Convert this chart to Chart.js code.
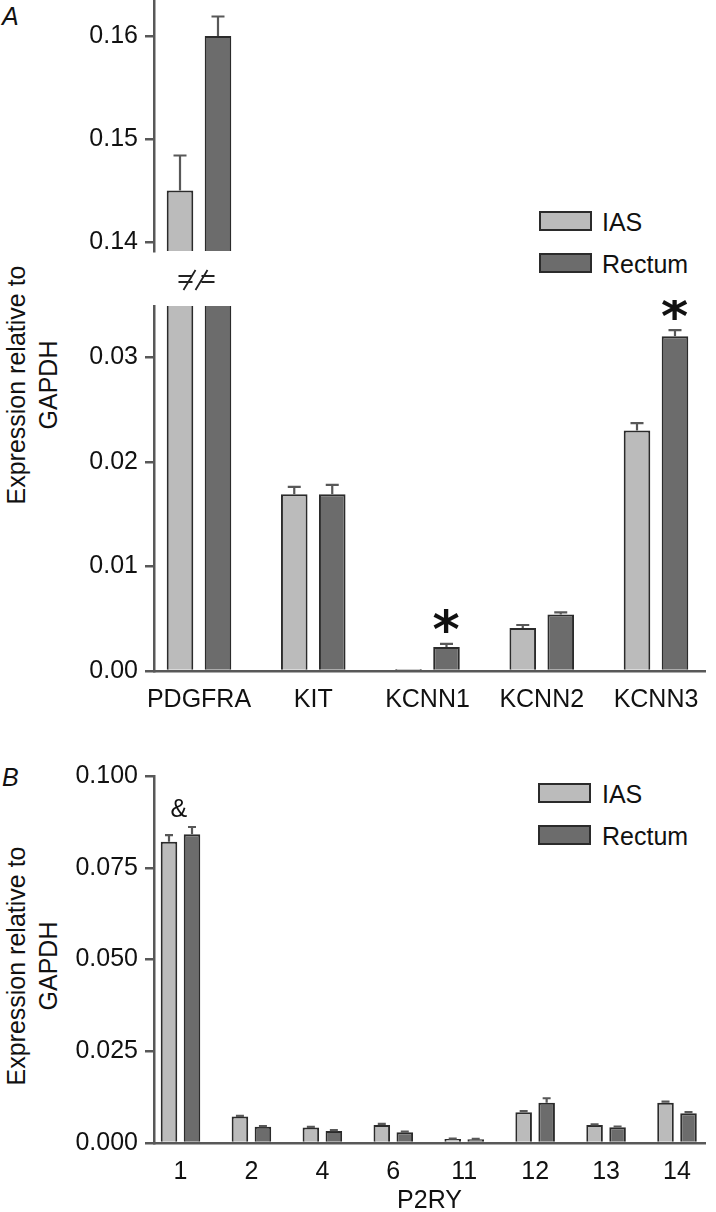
<!DOCTYPE html>
<html>
<head>
<meta charset="utf-8">
<script src="https://cdn.jsdelivr.net/npm/chart.js@4.4.1/dist/chart.umd.min.js"></script>
<style>
html,body{margin:0;padding:0;background:#fff;}
body{width:716px;height:1212px;position:relative;overflow:hidden;font-family:"Liberation Sans",Arial,sans-serif;color:#111;}
.box{position:absolute;left:0;width:716px;}
.box canvas{display:block;}
.plabel{position:absolute;font-size:25px;line-height:25px;font-style:italic;}
.ytitle{position:absolute;font-size:25px;text-align:center;line-height:32px;white-space:nowrap;transform:translate(-50%,-50%) rotate(-90deg);}
.sw{position:absolute;box-sizing:border-box;width:53px;height:20px;border:2px solid #2b2b2b;}
.lt{position:absolute;font-size:25px;line-height:25px;white-space:nowrap;}
</style>
</head>
<body>
<div class="plabel" style="left:2px;top:4px;">A</div>
<div class="plabel" style="left:2px;top:765px;">B</div>
<div class="ytitle" style="left:32px;top:385px;">Expression relative to<br>GAPDH</div>
<div class="ytitle" style="left:32px;top:966px;">Expression relative to<br>GAPDH</div>
<div id="legA"></div>
<div id="legB"></div>
<div class="box" style="top:0;height:300px;"><canvas id="cA1" width="716" height="300"></canvas></div>
<div class="box" style="top:300px;height:420px;"><canvas id="cA2" width="716" height="420"></canvas></div>
<div class="box" style="top:730px;height:482px;"><canvas id="cB" width="716" height="482"></canvas></div>
<script>
// ---------- DATA ----------
const seriesNames = ['IAS', 'Rectum'];

// Panel A
const genesA = ['PDGFRA', 'KIT', 'KCNN1', 'KCNN2', 'KCNN3'];
const iasA = [0.145, 0.0169, 0.0002, 0.0041, 0.0230];
const iasAErr = [0.0034, 0.0007, 0.0000, 0.0003, 0.0007];
const rectumA = [0.160, 0.0169, 0.0023, 0.0054, 0.0320];
const rectumAErr = [0.0019, 0.0009, 0.0003, 0.0002, 0.0006];
const sigA = ['', '', '*', '', '*'];            // marks above Rectum bars
const upperTicksA = [0.14, 0.15, 0.16];
const upperTickLabelsA = ['0.14', '0.15', '0.16'];
const lowerTicksA = [0.00, 0.01, 0.02, 0.03];
const lowerTickLabelsA = ['0.00', '0.01', '0.02', '0.03'];

// Panel B
const p2ry = ['1', '2', '4', '6', '11', '12', '13', '14'];
const iasB = [0.0821, 0.0072, 0.0042, 0.0049, 0.0011, 0.0084, 0.0049, 0.0110];
const iasBErr = [0.0018, 0.0002, 0.0002, 0.0003, 0.0001, 0.0003, 0.0002, 0.0003];
const rectumB = [0.0841, 0.0044, 0.0033, 0.0029, 0.0010, 0.0110, 0.0043, 0.0081];
const rectumBErr = [0.0020, 0.0002, 0.0002, 0.0002, 0.0001, 0.0012, 0.0002, 0.0003];
const markB = ['&', '', '', '', '', '', '', ''];  // marks above category
const ticksB = [0.000, 0.025, 0.050, 0.075, 0.100];
const tickLabelsB = ['0.000', '0.025', '0.050', '0.075', '0.100'];

// ---------- STYLE ----------
const FILLS = ['#bbbbbb', '#6c6c6c'];
const BORDER = '#2b2b2b';
const AXIS = '#585858';
const FONT = '"Liberation Sans", Arial, sans-serif';

Chart.defaults.font.family = FONT;
Chart.defaults.font.size = 25;
Chart.defaults.color = '#111';

// ---------- PLUGINS ----------
const errorBars = {
  id: 'errorBars',
  afterDatasetsDraw(chart, args, opts) {
    if (!opts.errors) return;
    const y = chart.scales.y, ctx = chart.ctx, ca = chart.chartArea;
    ctx.save();
    ctx.beginPath(); ctx.rect(ca.left, ca.top, ca.right - ca.left, ca.bottom - ca.top); ctx.clip();
    ctx.strokeStyle = AXIS; ctx.lineWidth = 2.2;
    chart.data.datasets.forEach((ds, d) => {
      chart.getDatasetMeta(d).data.forEach((bar, i) => {
        const v = ds.data[i].y, e = opts.errors[d][i];
        if (!e || v < y.min || v > y.max) return;
        const yb = y.getPixelForValue(v), yt = y.getPixelForValue(v + e);
        const h = opts.cap / 2;
        ctx.beginPath();
        ctx.moveTo(bar.x, yb); ctx.lineTo(bar.x, yt);
        ctx.moveTo(bar.x - h, yt); ctx.lineTo(bar.x + h, yt);
        ctx.stroke();
      });
    });
    ctx.restore();
  }
};

function drawCenteredText(ctx, txt, font, cx, cy) {
  ctx.font = font;
  ctx.textAlign = 'left';
  ctx.textBaseline = 'alphabetic';
  const m = ctx.measureText(txt);
  const x = cx - (m.actualBoundingBoxRight - m.actualBoundingBoxLeft) / 2;
  const y = cy + (m.actualBoundingBoxAscent - m.actualBoundingBoxDescent) / 2;
  ctx.fillText(txt, x, y);
}

const marks = {
  id: 'marks',
  afterDatasetsDraw(chart, args, opts) {
    const ctx = chart.ctx, y = chart.scales.y, x = chart.scales.x;
    const ds = chart.data.datasets;
    ctx.save();
    ctx.fillStyle = '#111';
    (opts.bar || []).forEach((t, i) => {
      if (!t) return;
      const d = opts.barDataset;
      const top = ds[d].data[i].y + opts.errors[d][i];
      if (top > y.max) return;
      const bar = chart.getDatasetMeta(d).data[i];
      drawCenteredText(ctx, t, opts.barFont, bar.x, y.getPixelForValue(top) - opts.barGap);
    });
    (opts.cat || []).forEach((t, i) => {
      if (!t) return;
      let top = 0;
      ds.forEach((s, d) => { top = Math.max(top, s.data[i].y + opts.errors[d][i]); });
      drawCenteredText(ctx, t, opts.catFont, x.getPixelForValue(i) - 1.5, y.getPixelForValue(top) - opts.catGap);
    });
    ctx.restore();
  }
};

const axisBreak = {
  id: 'axisBreak',
  afterDraw(chart, args, opts) {
    if (!opts.show) return;
    const ctx = chart.ctx;
    const cx = chart.scales.x.getPixelForValue(0) - 2.5;
    const cy = chart.chartArea.bottom + 29;
    ctx.save();
    ctx.strokeStyle = '#222'; ctx.lineWidth = 1.8;
    ctx.beginPath();
    ctx.moveTo(cx - 13, cy + 10); ctx.lineTo(cx - 1, cy - 10);
    ctx.moveTo(cx - 1, cy + 10); ctx.lineTo(cx + 11, cy - 10);
    ctx.moveTo(cx - 18, cy - 4); ctx.lineTo(cx - 4, cy - 4);
    ctx.moveTo(cx - 18, cy + 2); ctx.lineTo(cx - 4, cy + 2);
    ctx.moveTo(cx + 5, cy - 4); ctx.lineTo(cx + 18, cy - 4);
    ctx.moveTo(cx + 5, cy + 2); ctx.lineTo(cx + 18, cy + 2);
    ctx.stroke();
    ctx.restore();
  }
};

// ---------- BUILDERS ----------
function makeDatasets(values, cp, bp) {
  return values.map((vals, d) => ({
    label: seriesNames[d],
    data: vals.map((v, i) => ({ x: i, y: v })),
    backgroundColor: FILLS[d],
    borderColor: BORDER,
    borderWidth: 2,
    categoryPercentage: cp,
    barPercentage: bp,
    clip: 0
  }));
}

function makeChart(id, o) {
  const xScale = {
    type: 'linear', min: o.xMin, max: o.xMax, offset: false,
    display: o.showX,
    afterBuildTicks: s => { s.ticks = o.cats.map((_, i) => ({ value: i })); },
    ticks: { callback: v => o.cats[v], padding: o.xPad, autoSkip: false, maxRotation: 0, minRotation: 0, color: '#111' },
    grid: { display: false, drawTicks: false },
    border: { display: true, color: AXIS, width: 2.5 },
    afterFit: s => { s.height = o.xHeight; s.paddingLeft = 0; s.paddingRight = 0; }
  };
  if (o.xTitle) {
    xScale.title = { display: true, text: o.xTitle, padding: { top: 0, bottom: -2 }, font: { size: 25, lineHeight: 1 }, color: '#111' };
  }
  return new Chart(document.getElementById(id), {
    type: 'bar',
    data: { datasets: makeDatasets(o.values, o.cp, o.bp) },
    options: {
      responsive: false,
      animation: false,
      layout: { padding: { top: o.padTop, right: 11, bottom: o.padBottom, left: 0 } },
      scales: {
        x: xScale,
        y: {
          min: o.yMin, max: o.yMax,
          afterBuildTicks: s => { s.ticks = o.yTicks.map(v => ({ value: v })); },
          ticks: { callback: (v, i) => o.yLabels[i], padding: 7, color: '#111' },
          grid: { display: true, drawOnChartArea: false, drawTicks: true, tickLength: 9, color: AXIS, lineWidth: 2.5 },
          border: { display: true, color: AXIS, width: 2.5 },
          afterFit: s => { s.width = 154; s.paddingTop = 0; s.paddingBottom = 0; }
        }
      },
      plugins: {
        legend: { display: false },
        tooltip: { enabled: false },
        errorBars: { errors: o.errors, cap: o.cap },
        marks: Object.assign({ errors: o.errors }, o.marks || {}),
        axisBreak: { show: !!o.brk }
      }
    },
    plugins: [errorBars, marks, axisBreak]
  });
}

// Panel A, upper segment
makeChart('cA1', {
  cats: genesA, values: [iasA, rectumA], errors: [iasAErr, rectumAErr],
  xMin: -0.3939, xMax: 4.4289, cp: 0.665, bp: 0.70, cap: 13,
  yMin: 0.13913, yMax: 0.1635, yTicks: upperTicksA, yLabels: upperTickLabelsA,
  showX: false, xHeight: 0, xPad: 0, padTop: 0, padBottom: 49, brk: true
});

// Panel A, lower segment
makeChart('cA2', {
  cats: genesA, values: [iasA, rectumA], errors: [iasAErr, rectumAErr],
  xMin: -0.3939, xMax: 4.4289, cp: 0.665, bp: 0.70, cap: 13,
  yMin: 0, yMax: 0.0349, yTicks: lowerTicksA, yLabels: lowerTickLabelsA,
  showX: true, xHeight: 49, xPad: 14, padTop: 6, padBottom: 0,
  marks: { bar: sigA, barDataset: 1, barFont: 'bold 52px "DejaVu Sans"', barGap: 23 }
});

// Panel B
makeChart('cB', {
  cats: p2ry, values: [iasB, rectumB], errors: [iasBErr, rectumBErr],
  xMin: -0.3736, xMax: 7.3946, cp: 0.6485, bp: 0.72, cap: 8,
  yMin: 0, yMax: 0.1, yTicks: ticksB, yLabels: tickLabelsB,
  showX: true, xHeight: 69, xPad: 14, xTitle: 'P2RY', padTop: 46, padBottom: 0,
  marks: { cat: markB, catFont: '25px "Liberation Sans"', catGap: 19 }
});

// ---------- LEGENDS ----------
function legend(el, left, tops) {
  const root = document.getElementById(el);
  seriesNames.forEach((n, d) => {
    const sw = document.createElement('div');
    sw.className = 'sw';
    sw.style.left = left + 'px'; sw.style.top = tops[d] + 'px';
    sw.style.background = FILLS[d];
    root.appendChild(sw);
    const t = document.createElement('div');
    t.className = 'lt';
    t.textContent = n;
    t.style.left = '602px'; t.style.top = (tops[d] - 1) + 'px';
    root.appendChild(t);
  });
}
legend('legA', 539, [211, 253]);
legend('legB', 538, [783, 825]);
</script>
</body>
</html>
